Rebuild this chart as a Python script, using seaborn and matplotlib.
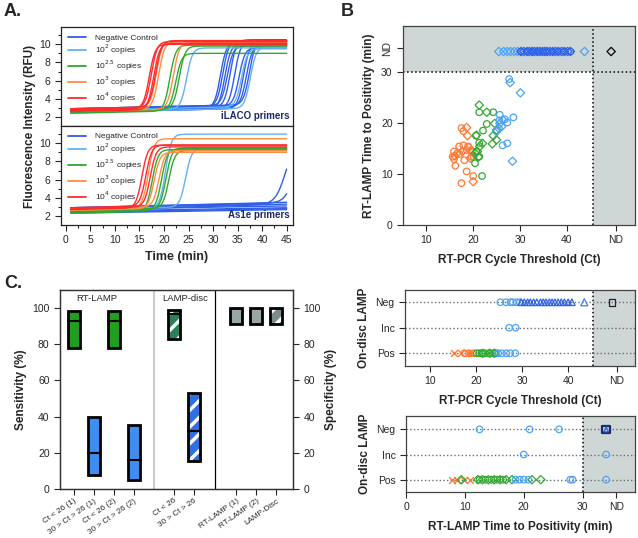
import numpy as np
import pandas as pd
import matplotlib
matplotlib.use("Agg")
import matplotlib.pyplot as plt
from matplotlib.lines import Line2D
import seaborn as sns

sns.set_theme(style="ticks")
plt.rcParams['font.family'] = ['Liberation Sans', 'DejaVu Sans']
plt.rcParams['hatch.linewidth'] = 2.5

W, H = 638, 538
tick_fs = 7.5
lab_fs = 8.5

# ---------------- panel A data: amplification curves ----------------
groups = ['Negative Control', '10$^{2}$ copies', '10$^{2.5}$ copies',
          '10$^{3}$ copies', '10$^{4}$ copies']
group_colors = ['#2f5fe6', '#62b2f2', '#30a830', '#ff8c42', '#ff2a2a']

# per curve: group index, time at half rise (99 = no rise), start RFU, plateau RFU, rise width
ilaco_group = [0, 0, 0, 0, 0, 0, 0, 0, 0, 0, 1, 1, 1, 2, 2, 2, 3, 3, 3, 4, 4, 4, 4]
ilaco_tt = [31.5, 32.0, 32.4, 32.9, 33.5, 34.4, 35.3, 36.2, 36.8, 37.4,
            24.6, 35.8, 37.6, 21.2, 22.4, 23.1, 18.9, 21.9, 18.4, 17.0, 17.4, 17.9, 18.3]
ilaco_start = [2.6, 2.8, 2.5, 2.9, 2.7, 2.6, 2.8, 2.5, 2.7, 2.9,
               2.6, 2.7, 2.5, 2.4, 2.5, 2.6, 2.7, 2.6, 2.8, 2.7, 2.8, 2.6, 2.9]
ilaco_top = [10.2, 10.4, 10.0, 9.8, 10.5, 10.3, 9.6, 10.1, 9.9, 10.4,
             9.6, 9.5, 9.7, 9.9, 9.0, 9.8, 10.3, 10.2, 10.4, 10.0, 10.3, 10.1, 10.4]
ilaco_k = [0.6] * 23

as1e_group = [0, 0, 0, 0, 0, 0, 0, 0, 1, 1, 2, 2, 2, 2, 3, 3, 3, 4, 4, 4]
as1e_tt = [99, 99, 99, 99, 99, 99, 44.7, 46.7,
           20.3, 24.4, 17.6, 19.5, 20.4, 21.0, 16.8, 18.0, 19.0, 15.5, 16.3, 17.2]
as1e_start = [2.3, 2.5, 2.7, 2.9, 2.6, 2.4, 2.8, 2.9,
              2.6, 2.7, 2.3, 2.4, 2.5, 2.6, 2.7, 2.6, 2.8, 2.7, 2.9, 2.8]
as1e_top = [2.7, 2.9, 3.1, 3.5, 3.3, 2.8, 10.0, 10.0,
            11.0, 9.4, 9.3, 9.4, 9.5, 9.2, 10.5, 9.0, 9.2, 9.8, 9.8, 9.6]
as1e_k = [0.6] * 6 + [1.0, 1.0] + [0.6] * 12

time_min = np.arange(1, 45.01, 0.25)


def curve_frame(gidx, tt, start, top, k):
    rows = []
    for i in range(len(gidx)):
        base = start[i] + 0.012 * (time_min - 1)
        if tt[i] >= 99:
            y = np.linspace(start[i], top[i], len(time_min))
        else:
            y = base + (top[i] - base) / (1 + np.exp(-(time_min - tt[i]) / k[i]))
        rows.append(pd.DataFrame({'t': time_min, 'rfu': y, 'curve': i,
                                  'group': groups[gidx[i]]}))
    return pd.concat(rows, ignore_index=True)


# ---------------- panel B data ----------------
b_or_c_x = [17.5, 15.9, 15.6, 15.9, 16.2, 17.9, 18.6, 18.6, 20.0, 20.1, 19.9, 17.1, 18.1, 19.4, 17.5, 17.9, 17.0, 18.9, 19.6]
b_or_c_y = [19.0, 14.4, 13.4, 12.9, 11.6, 15.6, 14.7, 10.5, 9.6, 13.4, 14.4, 13.9, 12.7, 14.6, 8.2, 18.4, 15.4, 15.4, 13.4]
b_or_d_x = [18.6, 18.8, 19.4, 20.0, 19.1, 16.1, 16.6, 17.7]
b_or_d_y = [19.1, 17.5, 13.1, 8.5, 15.2, 13.5, 14.1, 14.4]
b_gr_c_x = [21.3, 20.6, 21.3, 22.1, 22.9, 20.7, 20.4, 21.3, 21.9, 24.3]
b_gr_c_y = [22.1, 17.5, 16.1, 18.5, 19.8, 14.4, 12.1, 13.4, 9.6, 22.1]
b_gr_d_x = [21.3, 22.9, 20.7, 22.0, 24.1, 25.0, 24.3, 25.0, 21.1, 20.9, 20.4, 21.4, 24.6]
b_gr_d_y = [23.5, 22.1, 17.6, 16.0, 15.9, 16.7, 17.5, 18.6, 13.3, 14.4, 14.1, 15.4, 19.9]
b_lb_c_x = [27.7, 25.7, 26.8, 28.6, 27.3, 26.3, 27.3, 25.6]
b_lb_c_y = [28.6, 21.6, 20.7, 21.1, 20.1, 15.6, 16.0, 20.5]
b_lb_d_x = [27.9, 30.1, 25.7, 26.3, 25.4, 26.1, 28.4, 25.0]
b_lb_d_y = [27.9, 25.9, 19.9, 20.6, 19.0, 19.3, 12.5, 18.3]
nd_lb_x = [25.5, 26.5, 27.3, 28.0, 28.8, 29.5, 43.8]
nd_bl_x = [30.2, 30.8, 31.5, 32.0, 32.6, 33.1, 33.7, 34.2, 34.8, 35.3, 35.8,
           36.4, 37.0, 37.6, 38.2, 38.9, 39.5, 40.2, 40.8]
ND_CT = 49.5
ND_TTP = 34

# ---------------- panel C data ----------------
c_labels = ['Ct < 26 (1)', '30 > Ct > 26 (1)', 'Ct < 26 (2)', '30 > Ct > 26 (2)',
            'Ct < 26', '30 > Ct > 26', 'RT-LAMP (1)', 'RT-LAMP (2)', 'LAMP-Disc']
c_low = [78, 7.5, 78, 5, 83, 15.5, 91, 91, 91]
c_high = [98.5, 40, 98.5, 35.5, 99, 53, 100, 100, 100]
c_mid = [93, 20, 93, 16, 96.5, 32, 100, 100, 100]
c_fill = ['#1f9e1f', '#3d8ef0', '#1f9e1f', '#3d8ef0', '#2b7f5a', '#2f6fe0', '#9aa5a5', '#9aa5a5', '#7d8b8b']
c_hatched = [False, False, False, False, True, True, False, False, True]
c_pos = [0.7, 1.7, 2.7, 3.7, 5.7, 6.7, 8.8, 9.8, 10.8]

# ---------------- panel D data (rows: Pos=0, Inc=1, Neg=2) ----------------
d1_neg_lb_c = [25.3, 26.5, 27.5, 28.0, 28.8, 29.5]
d1_neg_bl_t = [29.8, 30.5, 31.2, 31.8, 32.5, 33.2, 34.0, 34.6, 35.2, 35.9,
               36.5, 37.1, 37.8, 38.5, 39.2, 40.0, 40.8]
d1_neg_lb_t = [43.5]
d1_inc_lb_c = [27.2, 28.6]
d1_pos_or_x = [15.2, 16.8, 18.2, 19.0]
d1_pos_or_c = [17.5, 18.5, 19.5]
d1_pos_gr_c = [20.2, 20.7, 21.2, 22.0, 22.8, 23.6, 24.3]
d1_pos_gr_d = [21.5, 23.0, 24.0]
d1_pos_lb_c = [24.8, 25.6, 26.6, 27.4, 28.5]

d2_neg_lb_c = [12.5, 21.0, 26.0]
d2_inc_lb_c = [20.0, 34.0]
d2_pos_or_x = [7.8, 8.6, 9.9, 10.8]
d2_pos_gr_d = [9.4, 12.2, 13.0, 14.0, 15.0, 16.0, 17.0, 18.0, 21.4, 22.9]
d2_pos_gr_c = [12.5, 13.5, 14.5, 15.5, 16.5]
d2_pos_lb_c = [18.6, 19.3, 20.0, 20.8, 27.9, 28.3, 34.0]

orange, green, lblue, blue = '#ff7a33', '#33a833', '#4da3f5', '#2d63e8'
shade = '#cfd6d6'


def rect(x0, y0, x1, y1):
    return [x0 / W, 1 - y1 / H, (x1 - x0) / W, (y1 - y0) / H]


def pts(ax, x, y, color, marker, size=20):
    if marker == 'x':
        sns.scatterplot(x=x, y=y, ax=ax, marker='x', color=color, s=size, linewidth=1.0, zorder=3)
    else:
        sns.scatterplot(x=x, y=y, ax=ax, marker=marker, s=size, color=color,
                        facecolor='none', edgecolor=color, linewidth=0.9, zorder=3)


fig = plt.figure(figsize=(W / 100, H / 100), dpi=100)

# ---------------- panel A ----------------
axA1 = fig.add_axes(rect(61, 27, 293, 126))
axA2 = fig.add_axes(rect(61, 126, 293, 225))
for ax, df, name in [(axA1, curve_frame(ilaco_group, ilaco_tt, ilaco_start, ilaco_top, ilaco_k), 'iLACO primers'),
                     (axA2, curve_frame(as1e_group, as1e_tt, as1e_start, as1e_top, as1e_k), 'As1e primers')]:
    sns.lineplot(data=df, x='t', y='rfu', hue='group', units='curve', estimator=None,
                 palette=dict(zip(groups, group_colors)), hue_order=groups,
                 lw=1.0, ax=ax, legend=False, sort=False)
    ax.set_xlim(-1, 46.3)
    ax.set_ylim(1, 11.9)
    ax.set_yticks([2, 4, 6, 8, 10])
    ax.set_yticks([3, 5, 7, 9, 11], minor=True)
    ax.set_xticks(range(0, 46, 5))
    ax.set_xticks(np.arange(2.5, 46, 5), minor=True)
    ax.tick_params(labelsize=tick_fs, length=4, width=0.8)
    ax.tick_params(which='minor', length=2.5, width=0.8)
    ax.set_ylabel('')
    for s in ax.spines.values():
        s.set_linewidth(0.9)
        s.set_color('#222222')
    handles = [Line2D([], [], color=c, lw=1.3) for c in group_colors]
    ax.legend(handles, groups, loc='upper left', frameon=False, fontsize=6,
              handlelength=2.2, labelspacing=0.18, borderaxespad=0.5, handletextpad=1.1,
              borderpad=0.3)
    ax.text(0.985, 0.05, name, transform=ax.transAxes, ha='right', va='bottom',
            fontsize=7, fontweight='bold', color='#1c2a6b')
axA1.set_xlabel('')
axA1.set_xticklabels([])
axA2.set_xlabel('Time (min)', fontsize=lab_fs + 0.5, fontweight='bold', labelpad=4)
fig.text(30 / W, 1 - 126 / H, 'Fluorescence Intensity (RFU)', rotation=90,
         ha='center', va='center', fontsize=lab_fs, fontweight='bold')

# ---------------- panel B ----------------
axB = fig.add_axes(rect(403, 26, 635, 225))
axB.axhspan(30, 40, color=shade, lw=0, zorder=0)
axB.axvspan(45.6, 60, color=shade, lw=0, zorder=0)
axB.axhline(30, color='black', ls=':', lw=1.1, zorder=1)
axB.axvline(45.6, color='black', ls=':', lw=1.1, zorder=1)
pts(axB, b_or_c_x, b_or_c_y, orange, 'o', 22)
pts(axB, b_or_d_x, b_or_d_y, orange, 'D', 18)
pts(axB, b_gr_c_x, b_gr_c_y, green, 'o', 22)
pts(axB, b_gr_d_x, b_gr_d_y, green, 'D', 18)
pts(axB, b_lb_c_x, b_lb_c_y, lblue, 'o', 22)
pts(axB, b_lb_d_x, b_lb_d_y, lblue, 'D', 18)
pts(axB, nd_lb_x, [ND_TTP] * len(nd_lb_x), lblue, 'D', 18)
pts(axB, nd_bl_x, [ND_TTP] * len(nd_bl_x), blue, 'D', 18)
pts(axB, nd_bl_x[::2], [ND_TTP] * len(nd_bl_x[::2]), blue, 'o', 20)
pts(axB, [ND_CT], [ND_TTP], 'black', 'D', 18)
axB.set_xlim(5, 54.6)
axB.set_ylim(0, 39)
axB.set_xticks([10, 20, 30, 40, 50.5])
axB.set_xticklabels(['10', '20', '30', '40', 'ND'])
axB.set_yticks([0, 10, 20, 30, 34.6])
axB.set_yticklabels(['0', '10', '20', '30', 'ND'])
axB.get_yticklabels()[-1].set_rotation(90)
axB.get_yticklabels()[-1].set_va('center')
axB.tick_params(labelsize=tick_fs, length=4, width=0.8)
axB.set_xlabel('RT-PCR Cycle Threshold (Ct)', fontsize=lab_fs, fontweight='bold', labelpad=6)
axB.set_ylabel('RT-LAMP Time to Positivity (min)', fontsize=lab_fs, fontweight='bold', labelpad=4)
for s in axB.spines.values():
    s.set_linewidth(0.9)
    s.set_color('#444444')

# ---------------- panel C ----------------
axC = fig.add_axes(rect(60, 290, 293, 489))
for p, lo, hi, md, fc, hat in zip(c_pos, c_low, c_high, c_mid, c_fill, c_hatched):
    if hat:
        axC.bar(p, hi - lo, bottom=lo, width=0.6, color=fc, edgecolor='white', hatch='//', lw=0, zorder=2)
        axC.bar(p, hi - lo, bottom=lo, width=0.6, facecolor='none', edgecolor='black', lw=2, zorder=3)
    else:
        axC.bar(p, hi - lo, bottom=lo, width=0.6, color=fc, edgecolor='black', lw=2, zorder=3)
    if md < hi:
        axC.plot([p - 0.3, p + 0.3], [md, md], color='black', lw=1.5, zorder=4)
axC.axvline(4.7, color='#c8cccc', lw=1.5)
axC.axvline(7.75, color='black', lw=0.9)
axC.set_xlim(0, 11.65)
axC.set_ylim(0, 110)
axC.set_yticks(range(0, 101, 20))
axC.set_xticks(c_pos)
axC.set_xticklabels(c_labels, rotation=35, ha='right', rotation_mode='anchor', fontsize=5.9)
axC.tick_params(axis='y', labelsize=tick_fs, length=4, width=0.8)
axC.tick_params(axis='x', length=4, width=0.8, pad=2)
axC.text(1.85, 105.5, 'RT-LAMP', ha='center', va='center', fontsize=6.8)
axC.text(6.25, 105.5, 'LAMP-disc', ha='center', va='center', fontsize=6.8)
axC.set_ylabel('Sensitivity (%)', fontsize=lab_fs, fontweight='bold', labelpad=4)
axC2 = axC.twinx()
axC2.set_ylim(0, 110)
axC2.set_yticks(range(0, 101, 20))
axC2.tick_params(axis='y', labelsize=tick_fs, length=4, width=0.8)
axC2.set_ylabel('Specificity (%)', fontsize=lab_fs, fontweight='bold', labelpad=3)
for a in (axC, axC2):
    for s in a.spines.values():
        s.set_linewidth(0.9)
        s.set_color('#333333')

# ---------------- panel D ----------------
rows = ['Pos', 'Inc', 'Neg']
axD1 = fig.add_axes(rect(405, 290, 635, 366))
axD2 = fig.add_axes(rect(406, 416, 635, 492))
axD1.axvspan(45.3, 60, color=shade, lw=0, zorder=0)
axD1.axvline(45.3, color='black', ls=':', lw=1.1, zorder=1)
axD2.axvspan(30, 45, color=shade, lw=0, zorder=0)
axD2.axvline(30, color='black', ls=':', lw=1.1, zorder=1)
for ax in (axD1, axD2):
    for r in range(3):
        ax.axhline(r, color='#66707a', ls=':', lw=1.0, zorder=1)

pts(axD1, d1_neg_lb_c, [2] * len(d1_neg_lb_c), lblue, 'o', 22)
pts(axD1, d1_neg_bl_t, [2] * len(d1_neg_bl_t), blue, '^', 22)
pts(axD1, d1_neg_lb_t, [2], '#3f7ff0', '^', 26)
pts(axD1, [ND_CT], [2], '#222222', 's', 24)
pts(axD1, d1_inc_lb_c, [1] * len(d1_inc_lb_c), lblue, 'o', 22)
pts(axD1, d1_pos_or_x, [0] * len(d1_pos_or_x), orange, 'x', 24)
pts(axD1, d1_pos_or_c, [0] * len(d1_pos_or_c), orange, 'o', 22)
pts(axD1, d1_pos_gr_c, [0] * len(d1_pos_gr_c), green, 'o', 22)
pts(axD1, d1_pos_gr_d, [0] * len(d1_pos_gr_d), green, 'D', 18)
pts(axD1, d1_pos_lb_c, [0] * len(d1_pos_lb_c), lblue, 'o', 22)
axD1.set_xlim(4.6, 54.5)
axD1.set_ylim(-0.5, 2.48)
axD1.set_xticks([10, 20, 30, 40, 50.5])
axD1.set_xticklabels(['10', '20', '30', '40', 'ND'])
axD1.set_xlabel('RT-PCR Cycle Threshold (Ct)', fontsize=lab_fs, fontweight='bold', labelpad=6)

pts(axD2, d2_neg_lb_c, [2] * len(d2_neg_lb_c), lblue, 'o', 22)
axD2.scatter([ND_TTP], [2], marker='s', s=30, facecolor='none', edgecolor='#1c2a6b', lw=1.6, zorder=3)
pts(axD2, [ND_TTP], [2], blue, '^', 12)
pts(axD2, d2_inc_lb_c, [1] * len(d2_inc_lb_c), lblue, 'o', 22)
pts(axD2, d2_pos_or_x, [0] * len(d2_pos_or_x), orange, 'x', 24)
pts(axD2, d2_pos_gr_d, [0] * len(d2_pos_gr_d), green, 'D', 18)
pts(axD2, d2_pos_gr_c, [0] * len(d2_pos_gr_c), green, 'o', 22)
pts(axD2, d2_pos_lb_c, [0] * len(d2_pos_lb_c), lblue, 'o', 22)
axD2.set_xlim(0, 38.9)
axD2.set_ylim(-0.49, 2.53)
axD2.set_xticks([0, 10, 20, 30, 35.7])
axD2.set_xticklabels(['0', '10', '20', '30', 'ND'])
axD2.set_xlabel('RT-LAMP Time to Positivity (min)', fontsize=lab_fs, fontweight='bold', labelpad=6)

for ax in (axD1, axD2):
    ax.set_yticks([0, 1, 2])
    ax.set_yticklabels(rows)
    ax.tick_params(labelsize=tick_fs, length=4, width=0.8)
    ax.set_ylabel('On-disc LAMP', fontsize=lab_fs, fontweight='bold', labelpad=4)
    for s in ax.spines.values():
        s.set_linewidth(0.9)
        s.set_color('#444444')

# panel letters
fig.text(4 / W, 1 - 12 / H, 'A.', fontsize=13, fontweight='bold', va='center')
fig.text(341 / W, 1 - 12 / H, 'B', fontsize=13, fontweight='bold', va='center')
fig.text(4 / W, 1 - 283 / H, 'C.', fontsize=13, fontweight='bold', va='center')

fig.savefig('out.png', dpi=100)
